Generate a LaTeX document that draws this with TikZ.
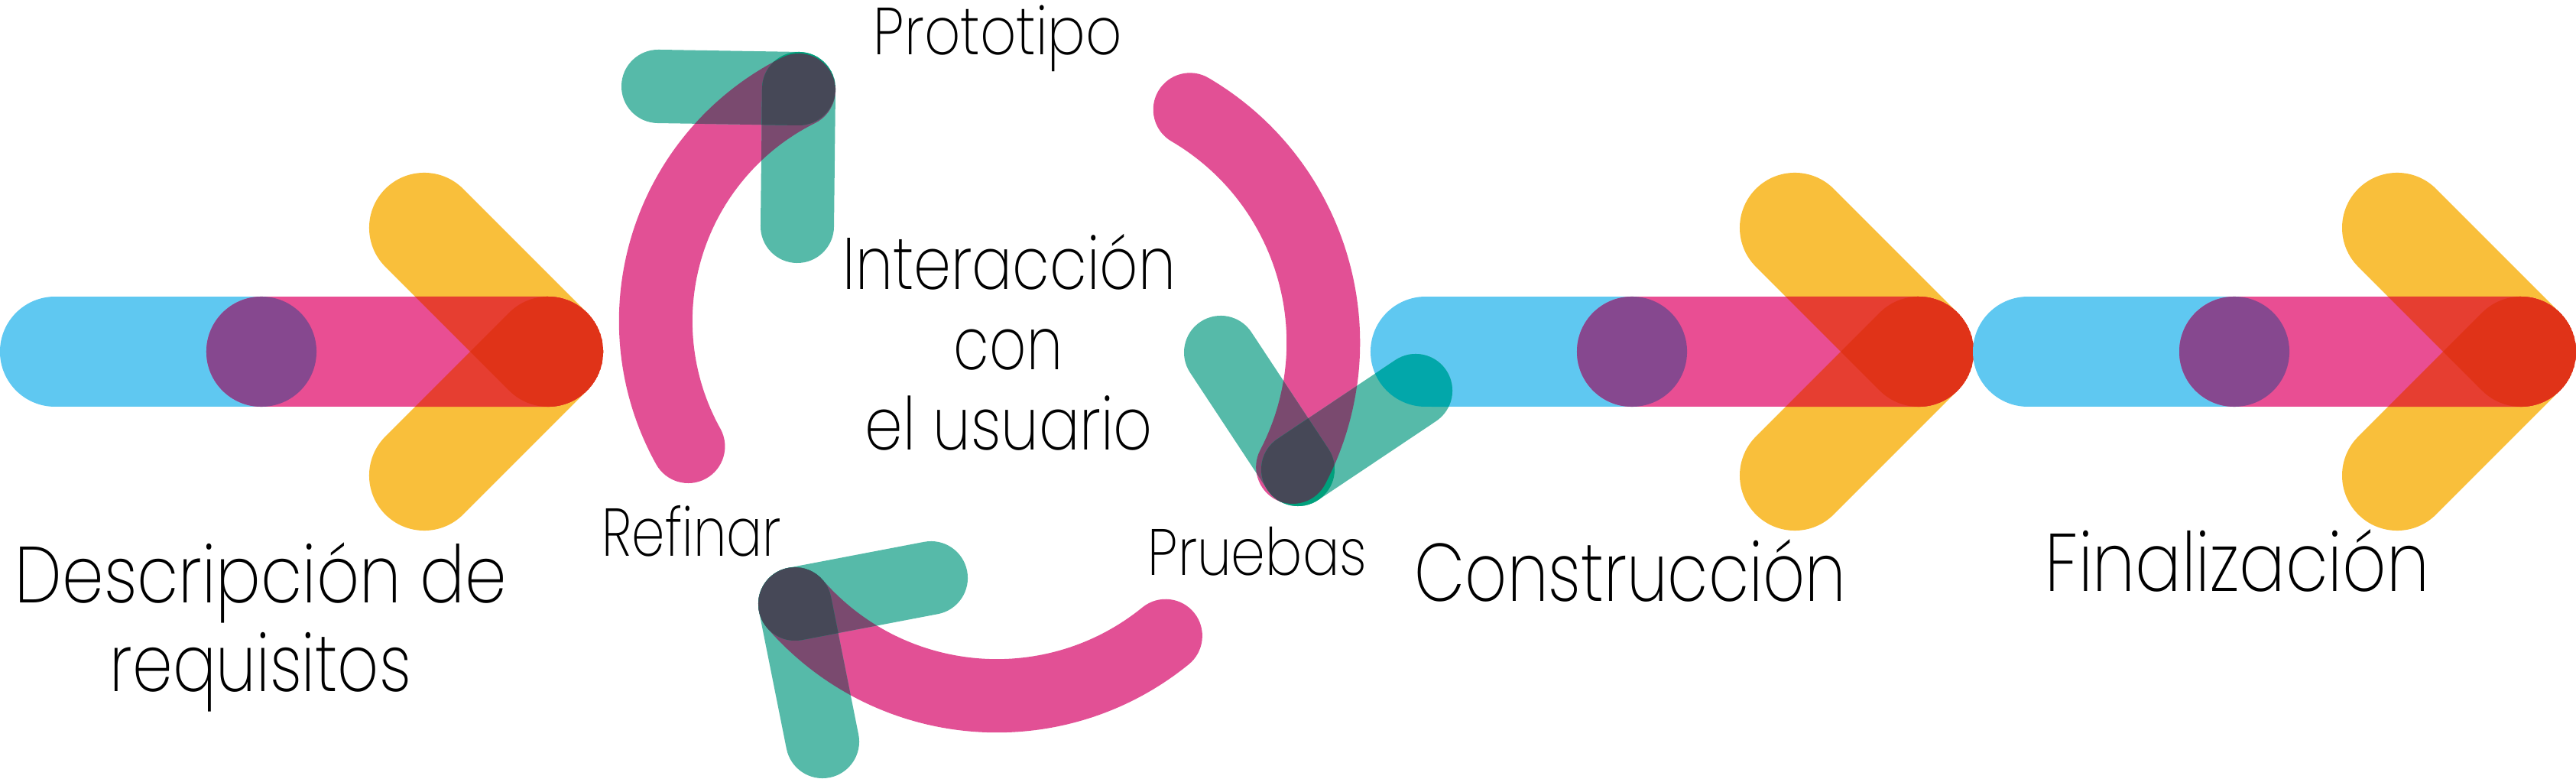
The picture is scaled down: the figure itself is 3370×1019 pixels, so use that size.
\documentclass[tikz,border=0pt]{standalone}
\usepackage{fontspec}
\usepackage{graphicx}
\IfFontExistsTF{Poppins ExtraLight}{\setmainfont{Poppins ExtraLight}}{%
  \IfFontExistsTF{Poppins Light}{\setmainfont{Poppins Light}}{%
    \IfFontExistsTF{Lato Light}{\setmainfont{Lato Light}}{\setmainfont{Poppins}}}}
\definecolor{cBlue}{HTML}{5FC8F1}
\definecolor{cBarPink}{HTML}{E94E93}
\definecolor{cPurple}{HTML}{86488F}
\definecolor{cYellow}{HTML}{F9BF3B}
\definecolor{cLRed}{HTML}{E63E31}
\definecolor{cDRed}{HTML}{E03318}
\definecolor{cArc}{HTML}{E25095}
\definecolor{cTeal}{HTML}{56BAA9}
\definecolor{cMix}{HTML}{7A4A6F}
\definecolor{cDark}{HTML}{464857}
\definecolor{cDeep}{HTML}{00A07C}
\definecolor{cTB}{HTML}{02A7AA}
\newlength\mycaph
\newlength\mytxtw
% #1 cap height (px), #2 width (px), #3 text
\newcommand\ftext[3]{%
  \begingroup
  \fontsize{100pt}{120pt}\selectfont
  \settoheight\mycaph{H}%
  \pgfmathsetmacro\myfs{100*#1*0.2845274/\mycaph}%
  \fontsize{\myfs pt}{\myfs pt}\selectfont
  \settowidth\mytxtw{#3}%
  \pgfmathsetmacro\myxs{#2*0.2845274/\mytxtw}%
  \scalebox{\myxs}[1]{#3}%
  \endgroup}
% clip to a capsule starting at (#1,#2), direction #3, length #4, radius #5 (px); draw #6 inside
\newcommand\withinarm[6]{%
  \begin{scope}[shift={({#1},{#2})},rotate=#3]
    \clip (0,-#5) -- (#4,-#5) arc[start angle=-90,end angle=90,radius={#5*0.01cm}]
      -- (0,#5) arc[start angle=90,end angle=270,radius={#5*0.01cm}] -- cycle;
    \begin{scope}[rotate={-(#3)},shift={({-(#1)},{-(#2)})}]
      #6
    \end{scope}
  \end{scope}}
% big arrow at horizontal offset #1, coordinate prefix #2
\newcommand\bigarrow[2]{%
  \coordinate (#2s) at (#1+72,-460);
  \coordinate (#2m) at (#1+342,-460);
  \coordinate (#2t) at (#1+717,-460);
  \coordinate (#2u) at (#1+555,-298);
  \coordinate (#2d) at (#1+555,-622);
  \draw[yarm] (#2t) -- (#2u);
  \draw[yarm] (#2t) -- (#2d);
  \draw[bluebar] (#2s) -- (#2m);
  \draw[pinkbar] (#2m) -- (#2t);
  \fill[cPurple] (#2m) circle[radius=0.72cm];
  \begin{scope}
    \clip (#1+342,-388) -- (#1+717,-388) arc[start angle=90,end angle=-90,radius=0.72cm]
      -- (#1+342,-532) arc[start angle=270,end angle=90,radius=0.72cm] -- cycle;
    \draw[yarm,draw=cLRed] (#2t) -- (#2u);
    \draw[yarm,draw=cLRed] (#2t) -- (#2d);
    \withinarm{#1+717}{-460}{135}{229.1}{72}{\draw[yarm,draw=cDRed] (#2t) -- (#2d);}
  \end{scope}}
\begin{document}
\begin{tikzpicture}[x=0.01cm,y=0.01cm,
  yarm/.style={line width=1.44cm,line cap=round,draw=cYellow},
  bluebar/.style={line width=1.44cm,line cap=round,draw=cBlue},
  pinkbar/.style={line width=1.44cm,line cap=round,draw=cBarPink},
  parc/.style={line width=0.96cm,line cap=round,draw=cArc},
  tarm/.style={line width=0.96cm,line cap=round,draw=cTeal},
  lbl/.style={anchor=base,inner sep=0pt,text=black}]
\useasboundingbox (0,0) rectangle (3370,-1019);
\fill[white] (0,0) rectangle (3370,-1019);

% three big arrows
\bigarrow{0}{ar1}
\bigarrow{1793}{ar2}
\bigarrow{2581}{ar3}

% cycle: centres of the arcs
\coordinate (cL) at (1195,-420);
\coordinate (cR) at (1378,-448);
\coordinate (cB) at (1304,-560);
\def\pathL{(cL) ++(209.1:3.37cm) arc[start angle=209.1,end angle=116.4,radius=3.37cm]}
\def\pathR{(cR) ++(59.6:3.53cm) arc[start angle=59.6,end angle=-27.5,radius=3.53cm]}
\def\pathB{(cB) ++(-50.9:3.50cm) arc[start angle=-50.9,end angle=-138.9,radius=3.50cm]}
\draw[parc] \pathL;
\draw[parc] \pathR;
\draw[parc] \pathB;

% arrow heads
\coordinate (h1) at (1045,-116); \coordinate (h1a) at (861,-113); \coordinate (h1b) at (1043,-296);
\coordinate (h2) at (1698,-614); \coordinate (h2a) at (1597,-461); \coordinate (h2b) at (1852,-511);
\coordinate (h3) at (1040,-790); \coordinate (h3a) at (1218,-756); \coordinate (h3b) at (1076,-970);
\draw[tarm] (h1) -- (h1a); \draw[tarm] (h1) -- (h1b);
\draw[tarm] (h2) -- (h2a); \draw[tarm] (h2) -- (h2b);
\draw[tarm] (h3) -- (h3a); \draw[tarm] (h3) -- (h3b);

% teal over the blue of the second arrow
\begin{scope}
  \clip (1865,-388) -- (2135,-388) arc[start angle=90,end angle=-90,radius=0.72cm]
    -- (1865,-532) arc[start angle=270,end angle=90,radius=0.72cm] -- cycle;
  \draw[tarm,draw=cTB] (h2) -- (h2b);
\end{scope}

% overlaps, head 1
\withinarm{1045}{-116}{-90.64}{180.0}{48}{\draw[parc,draw=cMix] \pathL;}
\withinarm{1045}{-116}{179.07}{184.0}{48}{%
  \draw[parc,draw=cMix] \pathL;
  \draw[tarm,draw=cDeep] (h1) -- (h1b);
  \withinarm{1045}{-116}{-90.64}{180.0}{48}{\draw[parc,draw=cDark] \pathL;}}
% overlaps, head 2
\withinarm{1698}{-614}{33.78}{185.27}{48}{\draw[parc,draw=cMix] \pathR;}
\withinarm{1698}{-614}{123.43}{183.33}{48}{%
  \draw[parc,draw=cMix] \pathR;
  \draw[tarm,draw=cDeep] (h2) -- (h2b);
  \withinarm{1698}{-614}{33.78}{185.27}{48}{\draw[parc,draw=cDark] \pathR;}}
% overlaps, head 3
\withinarm{1040}{-790}{-78.69}{183.56}{48}{\draw[parc,draw=cMix] \pathB;}
\withinarm{1040}{-790}{10.81}{181.22}{48}{%
  \draw[parc,draw=cMix] \pathB;
  \draw[tarm,draw=cDeep] (h3) -- (h3b);
  \withinarm{1040}{-790}{-78.69}{183.56}{48}{\draw[parc,draw=cDark] \pathB;}}

% labels
\node[lbl] (desc1) at (341.5,-788) {\ftext{73}{643}{Descripción de}};
\node[lbl] (desc2) at (341,-904) {\ftext{73}{394}{requisitos}};
\node[lbl] (proto) at (1305.5,-72) {\ftext{61}{325}{Prototipo}};
\node[lbl] (inter1) at (1320.5,-379) {\ftext{67}{435}{Interacción}};
\node[lbl] (inter2) at (1319,-484) {\ftext{67}{142}{con}};
\node[lbl] (inter3) at (1320,-589) {\ftext{67}{376}{el usuario}};
\node[lbl] (refin) at (905,-727) {\ftext{62}{234}{Refinar}};
\node[lbl] (prueb) at (1645,-752) {\ftext{60}{286}{Pruebas}};
\node[lbl] (constr) at (2133,-786) {\ftext{75}{564}{Construcción}};
\node[lbl] (final) at (2927,-773) {\ftext{75}{502}{Finalización}};
\end{tikzpicture}
\end{document}
